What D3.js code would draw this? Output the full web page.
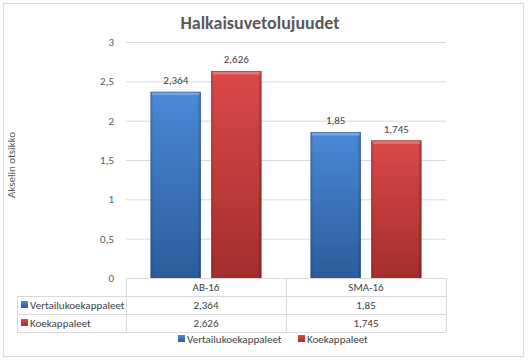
<!DOCTYPE html>
<html>
<head>
<meta charset="utf-8">
<script src="https://cdn.jsdelivr.net/npm/d3@7"></script>
<style>
  body { margin: 0; background: #fff; }
  text { font-family: Calibri, Carlito, "Open Sans", sans-serif; }
</style>
</head>
<body>
<div id="chart"></div>
<script>
const categories = ['AB-16', 'SMA-16'];
const seriesNames = ['Vertailukoekappaleet', 'Koekappaleet'];
const vertailu = [2.364, 1.85];
const koe = [2.626, 1.745];
const yTicks = [0, 0.5, 1, 1.5, 2, 2.5, 3];

const series = [
  { name: seriesNames[0], values: vertailu, top: '#4b88d6', bottom: '#2c5c9c', edge: '#24508a' },
  { name: seriesNames[1], values: koe, top: '#dc4848', bottom: '#a32e2e', edge: '#8c2626' }
];

const width = 528;
const height = 362;
const plot = { left: 126, right: 446, top: 42, bottom: 278 };
const fmt = v => String(v).replace('.', ',');

const svg = d3.select('#chart').append('svg')
  .attr('width', width)
  .attr('height', height);

// outer frame
svg.append('rect')
  .attr('x', 3.5).attr('y', 3.5)
  .attr('width', 520).attr('height', 353)
  .attr('fill', '#fff')
  .attr('stroke', '#d9d9d9');

const defs = svg.append('defs');
series.forEach((s, i) => {
  const g = defs.append('linearGradient')
    .attr('id', 'grad' + i)
    .attr('x1', 0).attr('y1', 0).attr('x2', 0).attr('y2', 1);
  g.append('stop').attr('offset', '0%').attr('stop-color', s.top);
  g.append('stop').attr('offset', '100%').attr('stop-color', s.bottom);
  const h = defs.append('linearGradient')
    .attr('id', 'side' + i)
    .attr('x1', 0).attr('y1', 0).attr('x2', 1).attr('y2', 0);
  h.append('stop').attr('offset', '0%').attr('stop-color', '#000').attr('stop-opacity', 0.12);
  h.append('stop').attr('offset', '6%').attr('stop-color', '#000').attr('stop-opacity', 0);
  h.append('stop').attr('offset', '94%').attr('stop-color', '#000').attr('stop-opacity', 0);
  h.append('stop').attr('offset', '100%').attr('stop-color', '#000').attr('stop-opacity', 0.25);
});

const y = d3.scaleLinear().domain([0, 3]).range([plot.bottom, plot.top]);
const x0 = d3.scaleBand().domain(categories).range([plot.left, plot.right]);
const x1 = d3.scaleBand().domain(seriesNames).range([0, x0.bandwidth()])
  .paddingInner(0.18).paddingOuter(0.41);

// title
svg.append('text')
  .attr('x', 260).attr('y', 29)
  .attr('text-anchor', 'middle')
  .attr('font-size', 18)
  .attr('font-weight', 'bold')
  .attr('fill', '#595959')
  .text('Halkaisuvetolujuudet');

// gridlines + y axis labels
const yAxis = d3.axisLeft(y).tickValues(yTicks)
  .tickSize(-(plot.right - plot.left))
  .tickFormat(fmt)
  .tickPadding(12);
const ga = svg.append('g')
  .attr('transform', `translate(${plot.left},0)`)
  .call(yAxis);
ga.select('.domain').remove();
ga.selectAll('.tick line').attr('stroke', '#d9d9d9');
ga.selectAll('.tick text').attr('fill', '#595959').attr('font-size', 11);

// axis title
svg.append('text')
  .attr('transform', `translate(15,${(plot.top + plot.bottom) / 2 + 5}) rotate(-90)`)
  .attr('text-anchor', 'middle')
  .attr('font-size', 11)
  .attr('fill', '#595959')
  .text('Akselin otsikko');

// bars
const groups = svg.append('g').selectAll('g')
  .data(categories)
  .join('g')
  .attr('transform', d => `translate(${x0(d)},0)`);

series.forEach((s, i) => {
  groups.each(function(cat, ci) {
    const g = d3.select(this);
    const v = s.values[ci];
    const bx = x1(s.name);
    const bw = x1.bandwidth();
    g.append('rect')
      .attr('x', bx).attr('y', y(v))
      .attr('width', bw).attr('height', y(0) - y(v))
      .attr('fill', `url(#grad${i})`)
      .attr('stroke', s.edge).attr('stroke-width', 0.6);
    g.append('rect')
      .attr('x', bx).attr('y', y(v))
      .attr('width', bw).attr('height', y(0) - y(v))
      .attr('fill', `url(#side${i})`);
    g.append('rect')
      .attr('x', bx + 1).attr('y', y(v) + 0.5)
      .attr('width', bw - 2).attr('height', 2.5)
      .attr('fill', '#fff').attr('opacity', 0.25);
    g.append('text')
      .attr('x', bx + bw / 2).attr('y', y(v) - 8)
      .attr('text-anchor', 'middle')
      .attr('font-size', 11)
      .attr('fill', '#404040')
      .text(fmt(v));
  });
});

// data table
const rowH = 18;
const tableLeft = 17;
const tbl = svg.append('g').attr('stroke', '#d9d9d9').attr('fill', 'none');
const rowsY = [plot.bottom, plot.bottom + rowH, plot.bottom + rowH * 2, plot.bottom + rowH * 3];
tbl.append('line').attr('x1', plot.left).attr('x2', plot.right).attr('y1', rowsY[0] + 0.5).attr('y2', rowsY[0] + 0.5);
[1, 2, 3].forEach(r => {
  tbl.append('line').attr('x1', tableLeft).attr('x2', plot.right)
    .attr('y1', rowsY[r] + 0.5).attr('y2', rowsY[r] + 0.5);
});
tbl.append('line').attr('x1', tableLeft + 0.5).attr('x2', tableLeft + 0.5).attr('y1', rowsY[1]).attr('y2', rowsY[3]);
[plot.left, x0('SMA-16'), plot.right].forEach(xv => {
  tbl.append('line').attr('x1', xv + 0.5).attr('x2', xv + 0.5).attr('y1', rowsY[0]).attr('y2', rowsY[3]);
});

const cellText = (tx, ty, t, anchor) => svg.append('text')
  .attr('x', tx).attr('y', ty)
  .attr('text-anchor', anchor || 'middle')
  .attr('font-size', 11)
  .attr('fill', '#404040')
  .text(t);

categories.forEach(c => cellText(x0(c) + x0.bandwidth() / 2, rowsY[0] + 13, c));
series.forEach((s, i) => {
  const ry = rowsY[i + 1];
  svg.append('rect')
    .attr('x', tableLeft + 4).attr('y', ry + 5)
    .attr('width', 7).attr('height', 7)
    .attr('fill', `url(#grad${i})`);
  cellText(tableLeft + 13, ry + 13, s.name, 'start');
  s.values.forEach((v, ci) => cellText(x0(categories[ci]) + x0.bandwidth() / 2, ry + 13, fmt(v)));
});

// legend
const legendY = 339;
const legendX = [178, 298];
series.forEach((s, i) => {
  svg.append('rect')
    .attr('x', legendX[i]).attr('y', legendY - 4)
    .attr('width', 7).attr('height', 7)
    .attr('fill', `url(#grad${i})`);
  cellText(legendX[i] + 9, legendY + 4, s.name, 'start');
});
</script>
</body>
</html>
